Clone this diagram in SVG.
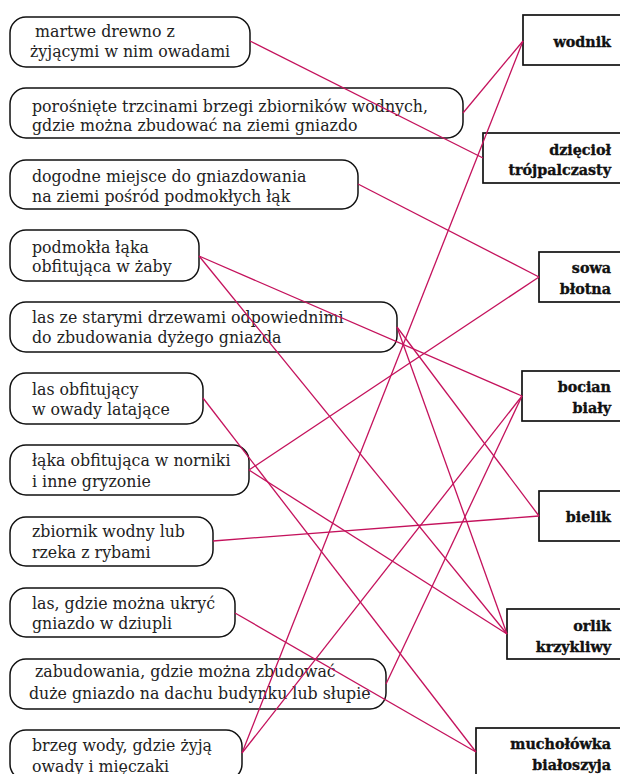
<svg xmlns="http://www.w3.org/2000/svg" width="620" height="774" viewBox="0 0 620 774">
<style>
.lb{fill:#fff;stroke:#111;stroke-width:1.5}
.rb{fill:#fff;stroke:#111;stroke-width:1.7}
.lt{font-family:"DejaVu Serif","Liberation Serif",serif;font-size:15.8px;fill:#222}
.rt{font-family:"DejaVu Serif","Liberation Serif",serif;font-size:14.3px;font-weight:bold;fill:#111;stroke:#111;stroke-width:0.35;text-anchor:end}
.c line{stroke:#c4125c;stroke-width:1.3}
</style>
<rect width="620" height="774" fill="#fff"/>
<g id="l1"><rect class="lb" x="10" y="17" width="240" height="50" rx="16"/><text class="lt" x="35" y="37">martwe drewno z</text><text class="lt" x="30" y="57">żyjącymi w nim owadami</text></g>
<g id="l2"><rect class="lb" x="10" y="88" width="453" height="50" rx="16"/><text class="lt" x="32" y="112">porośnięte trzcinami brzegi zbiorników wodnych,</text><text class="lt" x="32" y="131">gdzie można zbudować na ziemi gniazdo</text></g>
<g id="l3"><rect class="lb" x="10" y="160" width="348" height="49" rx="16"/><text class="lt" x="32" y="182">dogodne miejsce do gniazdowania</text><text class="lt" x="32" y="202">na ziemi pośród podmokłych łąk</text></g>
<g id="l4"><rect class="lb" x="10" y="230" width="189" height="51" rx="16"/><text class="lt" x="32" y="253">podmokła łąka</text><text class="lt" x="32" y="272">obfitująca w żaby</text></g>
<g id="l5"><rect class="lb" x="10" y="302" width="387" height="50" rx="16"/><text class="lt" x="32" y="323">las ze starymi drzewami odpowiednimi</text><text class="lt" x="32" y="343">do zbudowania dyżego gniazda</text></g>
<g id="l6"><rect class="lb" x="10" y="373" width="193" height="51" rx="16"/><text class="lt" x="32" y="395">las obfitujący</text><text class="lt" x="32" y="415">w owady latające</text></g>
<g id="l7"><rect class="lb" x="10" y="445" width="239" height="50" rx="16"/><text class="lt" x="32" y="466">łąka obfitująca w norniki</text><text class="lt" x="32" y="487">i inne gryzonie</text></g>
<g id="l8"><rect class="lb" x="10" y="517" width="203" height="49" rx="16"/><text class="lt" x="32" y="537">zbiornik wodny lub</text><text class="lt" x="32" y="558">rzeka z rybami</text></g>
<g id="l9"><rect class="lb" x="10" y="588" width="225" height="49" rx="16"/><text class="lt" x="32" y="609">las, gdzie można ukryć</text><text class="lt" x="32" y="629">gniazdo w dziupli</text></g>
<g id="l10"><rect class="lb" x="10" y="659" width="376" height="50" rx="16"/><text class="lt" x="35" y="677">zabudowania, gdzie można zbudować</text><text class="lt" x="29" y="699">duże gniazdo na dachu budynku lub słupie</text></g>
<g id="l11"><rect class="lb" x="10" y="730" width="232" height="50" rx="16"/><text class="lt" x="32" y="751">brzeg wody, gdzie żyją</text><text class="lt" x="32" y="772">owady i mięczaki</text></g>
<g id="r1"><rect class="rb" x="523" y="15" width="104" height="50"/><text class="rt" x="611" y="47">wodnik</text></g>
<g id="r2"><rect class="rb" x="483" y="133" width="144" height="50"/><text class="rt" x="611" y="155">dzięcioł</text><text class="rt" x="611" y="175">trójpalczasty</text></g>
<g id="r3"><rect class="rb" x="539" y="252" width="88" height="50"/><text class="rt" x="611" y="273">sowa</text><text class="rt" x="611" y="294">błotna</text></g>
<g id="r4"><rect class="rb" x="522" y="371" width="105" height="50"/><text class="rt" x="611" y="392">bocian</text><text class="rt" x="611" y="413">biały</text></g>
<g id="r5"><rect class="rb" x="539" y="491" width="88" height="50"/><text class="rt" x="611" y="522">bielik</text></g>
<g id="r6"><rect class="rb" x="507" y="609" width="120" height="50"/><text class="rt" x="611" y="631">orlik</text><text class="rt" x="611" y="652">krzykliwy</text></g>
<g id="r7"><rect class="rb" x="476" y="728" width="151" height="50"/><text class="rt" x="611" y="749">muchołówka</text><text class="rt" x="611" y="770">białoszyja</text></g>
<g id="connectors" class="c">
<line x1="250" y1="41" x2="483" y2="158"/>
<line x1="463" y1="113" x2="523" y2="41"/>
<line x1="358" y1="184" x2="539" y2="277"/>
<line x1="199" y1="256" x2="522" y2="396"/>
<line x1="199" y1="256" x2="507" y2="634"/>
<line x1="397" y1="327" x2="539" y2="516"/>
<line x1="397" y1="327" x2="507" y2="634"/>
<line x1="203" y1="398" x2="476" y2="752"/>
<line x1="249" y1="470" x2="539" y2="277"/>
<line x1="249" y1="470" x2="507" y2="634"/>
<line x1="213" y1="541" x2="539" y2="516"/>
<line x1="235" y1="613" x2="476" y2="752"/>
<line x1="386" y1="684" x2="522" y2="396"/>
<line x1="242" y1="753" x2="523" y2="41"/>
<line x1="242" y1="753" x2="522" y2="396"/>
</g>
</svg>
